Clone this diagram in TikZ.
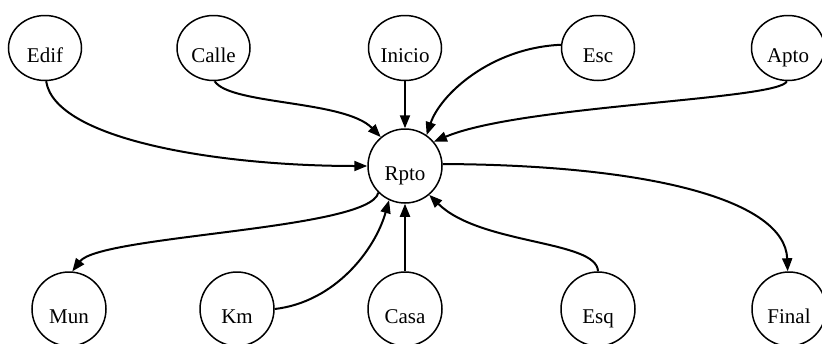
\documentclass[tikz,border=0pt]{standalone}
\usepackage{fontspec}
\setmainfont{Liberation Serif}
\usetikzlibrary{shapes.geometric,arrows.meta}
\begin{document}
\begin{tikzpicture}[x=1pt,y=-1pt,
  topnode/.style={draw,line width=1.5pt,ellipse,minimum width=73pt,minimum height=65pt,inner sep=0pt,
    font=\fontsize{21}{21}\selectfont,text height=28pt,text depth=0pt},
  rnode/.style={draw,line width=1.5pt,circle,minimum size=74pt,inner sep=0pt,
    font=\fontsize{21}{21}\selectfont,text height=28pt,text depth=0pt},
  edge/.style={line width=2pt,-{Triangle[length=13pt,width=10pt]}}]
\useasboundingbox (0,0) rectangle (822,343);
\node[topnode] (edif) at (45,48) {Edif};
\node[topnode] (calle) at (213.5,48) {Calle};
\node[topnode] (inicio) at (405,48) {Inicio};
\node[topnode] (esc) at (598,48) {Esc};
\node[topnode] (apto) at (788,48) {Apto};
\node[rnode] (rpto) at (405,166) {Rpto};
\node[rnode] (mun) at (69,309) {Mun};
\node[rnode] (km) at (237,309) {Km};
\node[rnode] (casa) at (405,309) {Casa};
\node[rnode] (esq) at (598,309) {Esq};
\node[rnode] (final) at (789,309) {Final};
\draw[edge] (edif.-88) .. controls (55,140) and (220,166) .. (rpto.180);
\draw[edge] (calle.-88) .. controls (230,105) and (345,100) .. (rpto.130);
\draw[edge] (inicio) -- (rpto);
\draw[edge] (esc.175) .. controls (490,48) and (440,95) .. (rpto.55);
\draw[edge] (apto.-92) .. controls (780,100) and (520,105) .. (rpto.40);
\draw[edge] (rpto.3) .. controls (650,165) and (785,200) .. (final.92);
\draw[edge] (rpto.225) .. controls (370,230) and (100,235) .. (mun.85);
\draw[edge] (km.0) .. controls (335,302) and (375,250) .. (rpto.245);
\draw[edge] (casa) -- (rpto);
\draw[edge] (esq.90) .. controls (597,240) and (480,245) .. (rpto.-50);
\end{tikzpicture}
\end{document}
